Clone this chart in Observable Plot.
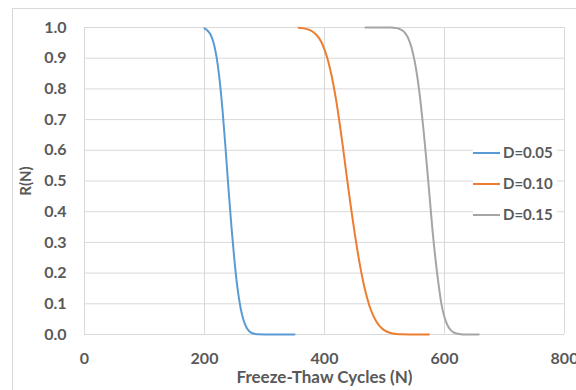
<!DOCTYPE html>
<html><head><meta charset="utf-8">
<script src="https://cdn.jsdelivr.net/npm/d3@7"></script>
<script src="https://cdn.jsdelivr.net/npm/@observablehq/plot@0.6"></script>
<style>
body{margin:0;background:#fff;}
#wrap{position:relative;width:576px;height:390px;overflow:hidden;font-family:Lato,"Open Sans",sans-serif;}
#border{position:absolute;left:12px;top:8px;width:620px;height:420px;border:1px solid #d9d9d9;box-sizing:border-box;}
#chart{position:absolute;left:0;top:0;}
#legend{position:absolute;left:473px;top:137px;background:#fff;padding:0 4px 0 0;}
.item{display:flex;align-items:center;height:31px;}
.sw{width:27px;height:2px;margin-right:3px;}
.lab{font-size:15px;font-weight:700;color:#595959;line-height:15px;}
</style></head>
<body>
<div id="wrap"><div id="border"></div><div id="chart"></div><div id="legend"></div></div>
<script>
const seriesNames = ["D=0.05","D=0.10","D=0.15"];
const seriesColors = ["#5B9BD5","#ED7D31","#A5A5A5"];
const xTicks = [0,200,400,600,800];
const yTicks = [0,0.1,0.2,0.3,0.4,0.5,0.6,0.7,0.8,0.9,1.0];

const n005 = [200,205,210,215,220,225,230,235,240,245,250,255,260,265,270,275,280,285,290,300,310,320,330,340,350];
const r005 = [0.997,0.990,0.977,0.951,0.905,0.833,0.732,0.609,0.474,0.349,0.239,0.151,0.088,0.047,0.023,0.010,0.004,0.0015,0.0005,0,0,0,0,0,0];

const n010 = [357,360,370,380,385,390,395,400,405,410,415,420,425,430,435,440,445,450,455,460,465,470,475,480,485,490,495,500,510,520,530,540,574];
const r010 = [0.999,0.9987,0.9956,0.987,0.979,0.968,0.952,0.928,0.898,0.859,0.812,0.756,0.691,0.621,0.546,0.472,0.401,0.334,0.272,0.216,0.167,0.127,0.093,0.067,0.047,0.032,0.021,0.0135,0.005,0.0017,0.0005,0,0];

const n015 = [468,490,510,520,525,530,535,540,545,550,555,560,565,570,575,580,585,590,595,600,605,610,615,620,630,640,657];
const r015 = [1.0,1.0,0.9997,0.998,0.995,0.990,0.980,0.963,0.935,0.893,0.835,0.759,0.667,0.564,0.453,0.340,0.245,0.165,0.098,0.056,0.030,0.015,0.007,0.003,0.0004,0,0];

const data = [];
[[n005,r005],[n010,r010],[n015,r015]].forEach(([ns,rs],i)=>{
  ns.forEach((n,j)=>data.push({series:seriesNames[i],N:n,R:rs[j]}));
});

const chart = Plot.plot({
  width:576, height:390,
  marginLeft:84, marginRight:12, marginTop:27, marginBottom:56,
  style:{fontFamily:"Lato, 'Open Sans', sans-serif", fontSize:"16px", fontWeight:"bold", color:"#595959", background:"transparent", overflow:"visible"},
  x:{domain:[0,800]},
  y:{domain:[0,1]},
  color:{domain:seriesNames, range:seriesColors},
  marks:[
    Plot.gridX(xTicks,{stroke:"#d9d9d9", strokeOpacity:1, strokeWidth:1}),
    Plot.gridY(yTicks,{stroke:"#d9d9d9", strokeOpacity:1, strokeWidth:1}),
    Plot.axisX(xTicks,{tickSize:0, tickPadding:18, tickFormat:d=>String(d), fontSize:16, fontWeight:"bold", fill:"#595959", label:null}),
    Plot.axisX({label:"Freeze-Thaw Cycles (N)", labelAnchor:"center", labelOffset:48, labelArrow:"none", ticks:[], tickSize:0, fontSize:17, fontWeight:"bold", fill:"#595959"}),
    Plot.axisY(yTicks,{tickSize:0, tickPadding:18, tickFormat:d3.format(".1f"), fontSize:16, fontWeight:"bold", fill:"#595959", label:null}),
    Plot.axisY({label:"R(N)", labelAnchor:"center", labelOffset:64, labelArrow:"none", ticks:[], tickSize:0, fontSize:15, fontWeight:"bold", fill:"#595959"}),
    Plot.line(data,{x:"N", y:"R", z:"series", stroke:"series", strokeWidth:2, curve:"monotone-x"})
  ]
});
document.getElementById("chart").appendChild(chart);

const leg = document.getElementById("legend");
seriesNames.forEach((s,i)=>{
  const it = document.createElement("div"); it.className="item";
  const sw = document.createElement("div"); sw.className="sw"; sw.style.background=seriesColors[i];
  const lb = document.createElement("span"); lb.className="lab"; lb.textContent=s;
  it.appendChild(sw); it.appendChild(lb); leg.appendChild(it);
});
</script>
</body></html>
